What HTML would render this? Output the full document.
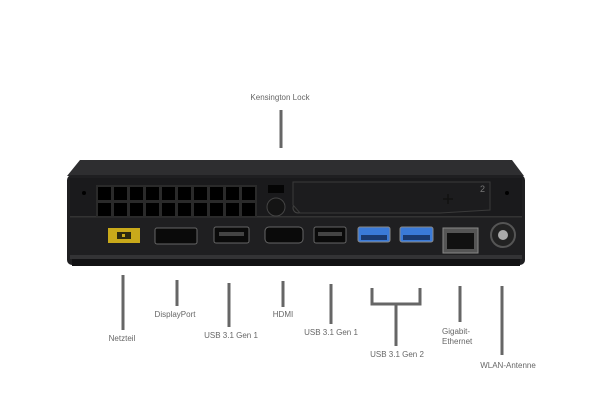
<!DOCTYPE html>
<html><head><meta charset="utf-8"><style>
html,body{margin:0;padding:0;background:#fff;}
svg{display:block}
text{font-family:"Liberation Sans","DejaVu Sans",sans-serif;font-size:8px;fill:#666;}
</style></head><body>
<svg width="600" height="400" viewBox="0 0 600 400">
<polygon points="80,160 512,160 524,176 67,176" fill="#2e2e30"/>
<rect x="67" y="175" width="458" height="90" rx="5" fill="#1f1f21"/>
<rect x="70" y="178" width="452" height="38" fill="#1a1a1c"/>
<rect x="70" y="216" width="452" height="1.5" fill="#333"/>
<rect x="70" y="255" width="452" height="4" fill="#333335"/>
<rect x="72" y="259" width="448" height="7" fill="#121214"/>
<rect x="96" y="185" width="161" height="32" fill="#2a2a2a"/>
<g fill="#000">
<rect x="98" y="187" width="13" height="13"/><rect x="114" y="187" width="13" height="13"/><rect x="130" y="187" width="13" height="13"/><rect x="146" y="187" width="13" height="13"/><rect x="162" y="187" width="13" height="13"/><rect x="178" y="187" width="13" height="13"/><rect x="194" y="187" width="13" height="13"/><rect x="210" y="187" width="13" height="13"/><rect x="226" y="187" width="13" height="13"/><rect x="242" y="187" width="13" height="13"/>
<rect x="98" y="203" width="13" height="13"/><rect x="114" y="203" width="13" height="13"/><rect x="130" y="203" width="13" height="13"/><rect x="146" y="203" width="13" height="13"/><rect x="162" y="203" width="13" height="13"/><rect x="178" y="203" width="13" height="13"/><rect x="194" y="203" width="13" height="13"/><rect x="210" y="203" width="13" height="13"/><rect x="226" y="203" width="13" height="13"/><rect x="242" y="203" width="13" height="13"/>
</g>
<rect x="268" y="185" width="16" height="8" fill="#050505"/>
<circle cx="276" cy="207" r="9" fill="#141414" stroke="#444"/>
<circle cx="298" cy="208" r="5" fill="#1a1a1a" stroke="#444"/>
<path d="M293,182 L490,182 L490,210 L440,213 L300,213 L293,205 Z" fill="#1c1c1e" stroke="#3a3a3a"/>
<text x="480" y="192" style="fill:#777;font-size:9px">2</text>
<path d="M443,199 h10 M448,194 v10" stroke="#111" stroke-width="1.5"/>
<circle cx="84" cy="193" r="2" fill="#000"/><circle cx="507" cy="193" r="2" fill="#000"/>
<rect x="108" y="228" width="32" height="15" fill="#c9a91a"/>
<rect x="117" y="232" width="14" height="7" fill="#2c2a10"/><rect x="122" y="234" width="3" height="3" fill="#c9a91a"/>
<rect x="155" y="228" width="42" height="16" rx="2" fill="#0a0a0a" stroke="#666"/>
<rect x="214" y="227" width="35" height="16" rx="2" fill="#0a0a0a" stroke="#666"/>
<rect x="219" y="232" width="25" height="4" fill="#444"/>
<rect x="265" y="227" width="38" height="16" rx="4" fill="#0a0a0a" stroke="#666"/>
<rect x="314" y="227" width="32" height="16" rx="2" fill="#0a0a0a" stroke="#666"/>
<rect x="318" y="232" width="24" height="4" fill="#444"/>
<rect x="358" y="227" width="32" height="15" rx="2" fill="#3a7ad8" stroke="#888"/>
<rect x="361" y="235" width="26" height="5" fill="#1a3a70"/>
<rect x="400" y="227" width="33" height="15" rx="2" fill="#3a7ad8" stroke="#888"/>
<rect x="403" y="235" width="27" height="5" fill="#1a3a70"/>
<rect x="443" y="228" width="35" height="25" fill="#555" stroke="#888"/>
<rect x="447" y="233" width="27" height="16" fill="#111"/>
<circle cx="503" cy="235" r="12" fill="#222" stroke="#555" stroke-width="2"/>
<circle cx="503" cy="235" r="5" fill="#aaa"/>
<g stroke="#666" stroke-width="3" fill="none">
<line x1="281" y1="110" x2="281" y2="148"/>
<line x1="123" y1="275" x2="123" y2="330"/>
<line x1="177" y1="280" x2="177" y2="306"/>
<line x1="229" y1="283" x2="229" y2="327"/>
<line x1="283" y1="281" x2="283" y2="307"/>
<line x1="331" y1="284" x2="331" y2="324"/>
<polyline points="372,288 372,304 420,304 420,288"/>
<line x1="396" y1="304" x2="396" y2="346"/>
<line x1="460" y1="286" x2="460" y2="322"/>
<line x1="502" y1="286" x2="502" y2="355"/>
</g>
<text x="280" y="100" text-anchor="middle">Kensington Lock</text>
<text x="122" y="341" text-anchor="middle">Netzteil</text>
<text x="175" y="317" text-anchor="middle">DisplayPort</text>
<text x="231" y="338" text-anchor="middle">USB 3.1 Gen 1</text>
<text x="283" y="317" text-anchor="middle">HDMI</text>
<text x="331" y="335" text-anchor="middle">USB 3.1 Gen 1</text>
<text x="397" y="357" text-anchor="middle">USB 3.1 Gen 2</text>
<text x="442" y="334">Gigabit-</text>
<text x="442" y="344">Ethernet</text>
<text x="508" y="368" text-anchor="middle">WLAN-Antenne</text>
</svg>
</body></html>
